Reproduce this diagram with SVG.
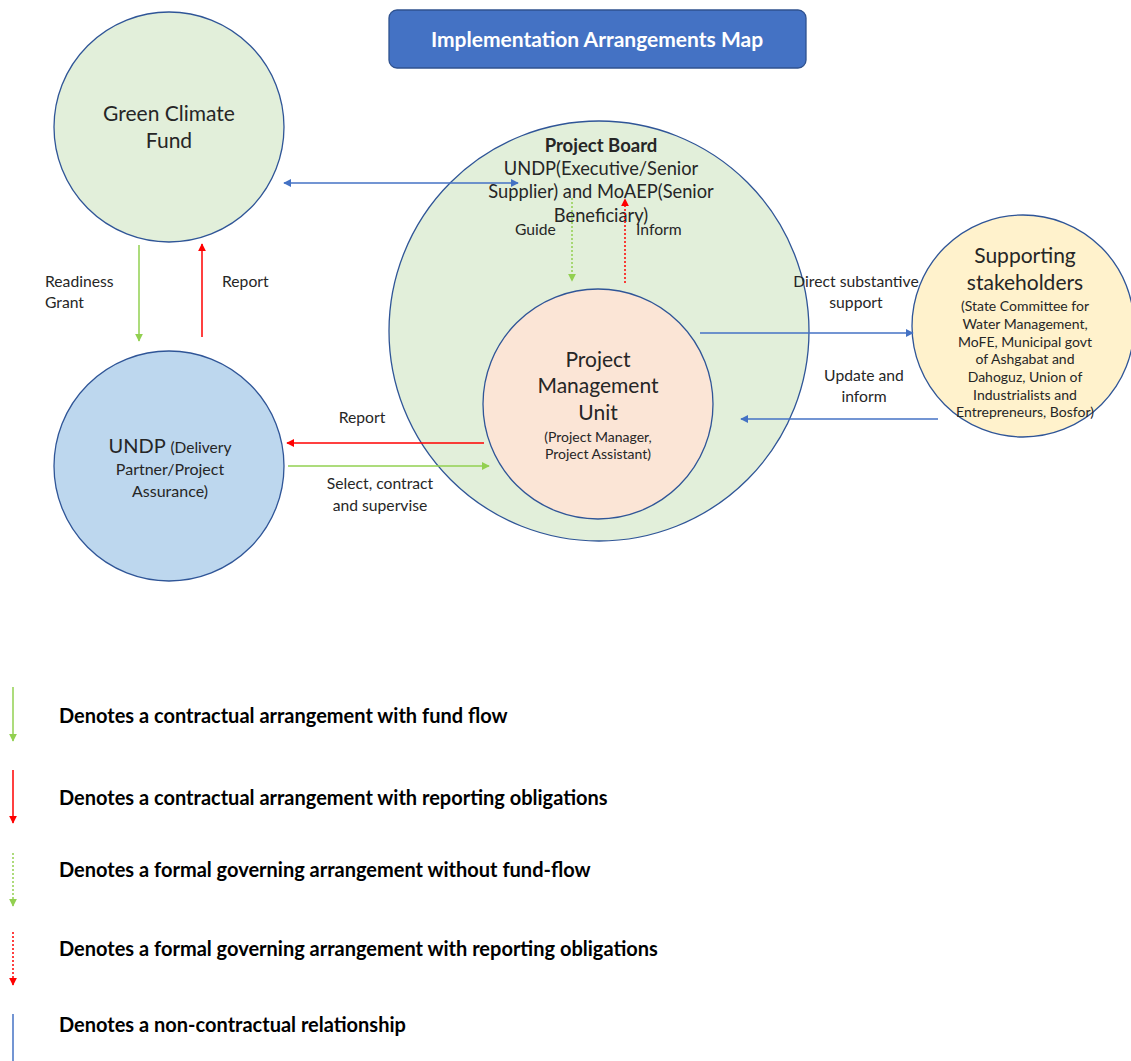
<svg xmlns="http://www.w3.org/2000/svg" width="1131" height="1061" viewBox="0 0 1131 1061">
<style>
  text { font-family: Lato, "Open Sans", "Liberation Sans", sans-serif; fill: #262626; }
  .node { stroke: #2F5597; stroke-width: 1.3; }
  .big { font-size: 21px; text-anchor: middle; }
  .mid { font-size: 16px; text-anchor: middle; }
  .sm { font-size: 14px; text-anchor: middle; }
  .lbl { font-size: 15.7px; }
  .leg { font-size: 20px; font-weight: bold; fill: #000; }
  .g { stroke: #92D050; stroke-width: 1.5; fill: none; }
  .r { stroke: #FF0000; stroke-width: 1.5; fill: none; }
  .b { stroke: #4472C4; stroke-width: 1.5; fill: none; }
  .dot { stroke-dasharray: 2 2; }
</style>
<defs>
  <marker id="ag" viewBox="0 0 10 10" refX="9" refY="5" markerWidth="8" markerHeight="8" markerUnits="userSpaceOnUse" orient="auto-start-reverse"><path d="M0,0 L10,5 L0,10 z" fill="#92D050"/></marker>
  <marker id="ar" viewBox="0 0 10 10" refX="9" refY="5" markerWidth="8" markerHeight="8" markerUnits="userSpaceOnUse" orient="auto-start-reverse"><path d="M0,0 L10,5 L0,10 z" fill="#FF0000"/></marker>
  <marker id="ab" viewBox="0 0 10 10" refX="9" refY="5" markerWidth="8" markerHeight="8" markerUnits="userSpaceOnUse" orient="auto-start-reverse"><path d="M0,0 L10,5 L0,10 z" fill="#4472C4"/></marker>
</defs>

<g id="title">
  <rect x="389" y="10" width="417" height="58" rx="8" fill="#4472C4" stroke="#2F528F" stroke-width="1.3"/>
  <text x="597" y="47" text-anchor="middle" style="font-size:21px;font-weight:bold;fill:#fff">Implementation Arrangements Map</text>
</g>

<g id="gcf">
  <circle class="node" cx="169" cy="127" r="115" fill="#E2EFDA"/>
  <text class="big" x="169" y="121">Green Climate</text>
  <text class="big" x="169" y="148">Fund</text>
</g>

<g id="undp">
  <circle class="node" cx="169" cy="466" r="115" fill="#BDD7EE"/>
  <text x="170" y="453" style="font-size:20px;text-anchor:middle"><tspan>UNDP </tspan><tspan style="font-size:15.5px">(Delivery</tspan></text>
  <text class="mid" x="170" y="475">Partner/Project</text>
  <text class="mid" x="170" y="497">Assurance)</text>
</g>

<g id="board">
  <circle class="node" cx="599" cy="331" r="210" fill="#E2EFDA"/>
  <text x="601" y="152" style="font-size:18.5px;font-weight:bold;text-anchor:middle">Project Board</text>
  <text x="601" y="175" style="font-size:18.3px;text-anchor:middle">UNDP(Executive/Senior</text>
  <text x="601" y="198" style="font-size:18.3px;text-anchor:middle">Supplier) and MoAEP(Senior</text>
  <text x="601" y="222" style="font-size:18.3px;text-anchor:middle">Beneficiary)</text>
</g>

<g id="pmu">
  <circle class="node" cx="598" cy="404" r="115" fill="#FBE5D6"/>
  <text class="big" x="598" y="367">Project</text>
  <text class="big" x="598" y="393">Management</text>
  <text class="big" x="598" y="420">Unit</text>
  <text class="sm" x="598" y="442">(Project Manager,</text>
  <text class="sm" x="598" y="459">Project Assistant)</text>
</g>

<g id="stakeholders">
  <circle class="node" cx="1023" cy="326" r="111" fill="#FFF2CC"/>
  <text class="big" x="1025" y="263">Supporting</text>
  <text class="big" x="1025" y="290">stakeholders</text>
  <text class="sm" x="1025" y="311">(State Committee for</text>
  <text class="sm" x="1025" y="329">Water Management,</text>
  <text class="sm" x="1025" y="347">MoFE, Municipal govt</text>
  <text class="sm" x="1025" y="364">of Ashgabat and</text>
  <text class="sm" x="1025" y="382">Dahoguz, Union of</text>
  <text class="sm" x="1025" y="400">Industrialists and</text>
  <text class="sm" x="1025" y="417">Entrepreneurs, Bosfor)</text>
</g>

<g id="connectors">
  <line class="b" x1="284" y1="183" x2="518" y2="183" marker-start="url(#ab)" marker-end="url(#ab)"/>
  <line class="g" x1="139" y1="245" x2="139" y2="341" marker-end="url(#ag)"/>
  <line class="r" x1="202" y1="337" x2="202" y2="244" marker-end="url(#ar)"/>
  <line class="g dot" x1="572" y1="198" x2="572" y2="281" marker-end="url(#ag)"/>
  <line class="r dot" x1="625" y1="283" x2="625" y2="199" marker-end="url(#ar)"/>
  <line class="b" x1="700" y1="333" x2="913" y2="333" marker-end="url(#ab)"/>
  <line class="b" x1="938" y1="419" x2="741" y2="419" marker-end="url(#ab)"/>
  <line class="r" x1="484" y1="443" x2="287" y2="443" marker-end="url(#ar)"/>
  <line class="g" x1="288" y1="466" x2="489" y2="466" marker-end="url(#ag)"/>

  <text class="lbl" x="45" y="287">Readiness</text>
  <text class="lbl" x="45" y="308">Grant</text>
  <text class="lbl" x="222" y="287">Report</text>
  <text class="lbl" x="515" y="235">Guide</text>
  <text class="lbl" x="636" y="235">Inform</text>
  <text class="lbl" x="856" y="287" text-anchor="middle">Direct substantive</text>
  <text class="lbl" x="856" y="308" text-anchor="middle">support</text>
  <text class="lbl" x="864" y="381" text-anchor="middle">Update and</text>
  <text class="lbl" x="864" y="402" text-anchor="middle">inform</text>
  <text class="lbl" x="362" y="423" text-anchor="middle">Report</text>
  <text class="lbl" x="380" y="489" text-anchor="middle">Select, contract</text>
  <text class="lbl" x="380" y="511" text-anchor="middle">and supervise</text>
</g>

<g id="legend">
  <line class="g" x1="13" y1="687" x2="13" y2="741" marker-end="url(#ag)"/>
  <text class="leg" x="59" y="723">Denotes a contractual arrangement with fund flow</text>
  <line class="r" x1="13" y1="770" x2="13" y2="823" marker-end="url(#ar)"/>
  <text class="leg" x="59" y="805">Denotes a contractual arrangement with reporting obligations</text>
  <line class="g dot" x1="13" y1="853" x2="13" y2="906" marker-end="url(#ag)"/>
  <text class="leg" x="59" y="877">Denotes a formal governing arrangement without fund-flow</text>
  <line class="r dot" x1="13" y1="932" x2="13" y2="985" marker-end="url(#ar)"/>
  <text class="leg" x="59" y="956">Denotes a formal governing arrangement with reporting obligations</text>
  <line class="b" x1="13" y1="1014" x2="13" y2="1061"/>
  <text class="leg" x="59" y="1032">Denotes a non-contractual relationship</text>
</g>
</svg>
